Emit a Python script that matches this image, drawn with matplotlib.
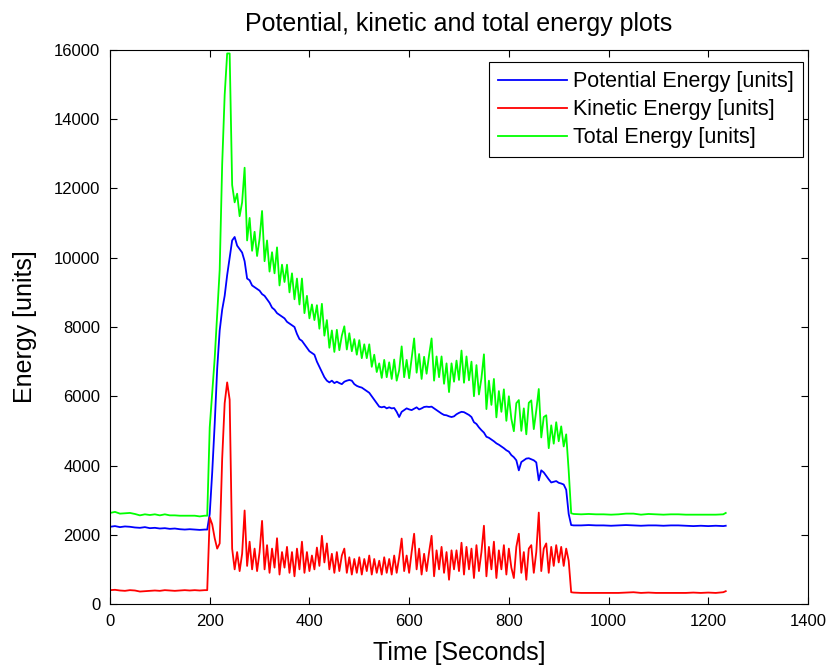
import numpy as np
import matplotlib
matplotlib.use("Agg")
import matplotlib.pyplot as plt
from matplotlib import font_manager

plt.rcParams['font.family'] = ['Liberation Sans', 'DejaVu Sans']
names = {f.name for f in font_manager.fontManager.ttflist}
if 'Liberation Sans Narrow' in names:
    tick_family, tick_size = 'Liberation Sans Narrow', 14
else:
    tick_family, tick_size = 'Liberation Sans', 12

# ---- data ----
time_pre = [0, 10, 20, 30, 40, 50, 60, 70, 80, 90, 100, 110, 120, 130, 140, 150, 160, 170, 180, 190]
pot_pre = [2230, 2250, 2220, 2240, 2230, 2210, 2200, 2220, 2190, 2200,
           2180, 2190, 2170, 2180, 2160, 2150, 2160, 2150, 2140, 2150]
kin_pre = [400, 410, 390, 380, 400, 390, 360, 370, 380, 390,
           380, 400, 390, 380, 390, 400, 390, 400, 390, 400]

time_mid = list(range(195, 926, 5))
pot_mid = [2150, 2600, 3800, 5200, 6800, 7900, 8500, 8900, 9500, 10000,
           10500, 10600, 10350, 10250, 10150, 9900, 9400, 9350, 9200, 9150,
           9100, 9050, 8950, 8900, 8800, 8700, 8560, 8500, 8400, 8350,
           8300, 8250, 8150, 8100, 8050, 8000, 7800, 7650, 7600, 7500,
           7400, 7300, 7250, 7200, 7000, 6850, 6700, 6550, 6450, 6400,
           6450, 6380, 6420, 6380, 6350, 6420, 6450, 6470, 6450, 6350,
           6300, 6270, 6250, 6200, 6150, 6100, 6000, 5900, 5800, 5700,
           5680, 5700, 5650, 5680, 5650, 5660, 5550, 5400, 5550, 5600,
           5650, 5620, 5600, 5640, 5680, 5620, 5650, 5690, 5700, 5690,
           5700, 5650, 5600, 5550, 5500, 5460, 5450, 5420, 5400, 5420,
           5480, 5520, 5550, 5540, 5500, 5460, 5400, 5250, 5200, 5100,
           5020, 4950, 4830, 4800, 4750, 4700, 4640, 4600, 4550, 4500,
           4440, 4400, 4300, 4240, 4150, 3860, 4100, 4150, 4200, 4210,
           4180, 4150, 4090, 3570, 3860, 3800, 3700, 3600, 3510, 3530,
           3550, 3500, 3480, 3450, 3300, 2600, 2280]
kin_mid = [400, 2500, 2300, 1900, 1600, 1750, 4200, 5800, 6400, 5900,
           1600, 1000, 1500, 950, 1450, 2700, 1100, 1800, 1000, 1600,
           950, 1500, 2400, 1000, 1700, 900, 1600, 1050, 1900, 850,
           1500, 1050, 1650, 900, 1500, 800, 1600, 1000, 1800, 900,
           1500, 950, 1400, 1000, 1630, 1100, 1970, 1200, 1750, 1000,
           1450, 900, 1500, 950, 1400, 1600, 900, 1350, 850, 1300,
           900, 1350, 850, 1300, 950, 1400, 850, 1300, 900, 1250,
           850, 1350, 900, 1300, 850, 1400, 900, 1350, 1890, 950,
           1400, 900, 1500, 2030, 1000, 1600, 850, 1450, 950, 1500,
           1970, 800, 1550, 1000, 1650, 900, 1500, 700, 1550, 1000,
           1550, 950, 1770, 850, 1650, 1000, 1600, 750, 1700, 950,
           1500, 2260, 800, 1650, 1000, 1800, 750, 1550, 1000, 1700,
           850, 1600, 1050, 750, 1650, 2030, 900, 1500, 700, 1600,
           1700, 900, 1500, 2640, 950, 1600, 1750, 900, 1650, 1100,
           1700, 1200, 1650, 1100, 1600, 1250, 340]

time_post = [930, 945, 960, 975, 990, 1005, 1020, 1035, 1050, 1065, 1080,
             1095, 1110, 1125, 1140, 1155, 1170, 1185, 1200, 1215, 1230, 1235]
pot_post = [2270, 2270, 2280, 2270, 2270, 2260, 2270, 2280, 2270, 2260, 2270,
            2270, 2260, 2270, 2270, 2260, 2250, 2260, 2250, 2260, 2250, 2260]
kin_post = [330, 320, 320, 320, 320, 320, 320, 330, 340, 320, 330,
            320, 320, 320, 320, 320, 330, 320, 330, 320, 340, 370]

time_s = np.array(time_pre + time_mid + time_post)
potential = np.array(pot_pre + pot_mid + pot_post)
kinetic = np.array(kin_pre + kin_mid + kin_post)
total = potential + kinetic

# ---- plot ----
fig = plt.figure(figsize=(8.38, 6.69), dpi=100)
ax = fig.add_axes([110/838, 1-604/669, 698/838, 554/669])

ax.plot(time_s, potential, color=(0, 0, 1), lw=1.3, label='Potential Energy [units]')
ax.plot(time_s, kinetic, color=(1, 0, 0), lw=1.3, label='Kinetic Energy [units]')
ax.plot(time_s, total, color=(0, 1, 0), lw=1.3, label='Total Energy [units]')

ax.set_xlim(0, 1400)
ax.set_ylim(0, 16000)
ax.set_xticks(range(0, 1401, 200))
ax.set_yticks(range(0, 16001, 2000))
ax.tick_params(direction='in', top=True, right=True, length=5, width=0.8, pad=7)
for lab in ax.get_xticklabels() + ax.get_yticklabels():
    lab.set_fontfamily(tick_family)
    lab.set_fontsize(tick_size)
for s in ax.spines.values():
    s.set_linewidth(0.8)

ax.set_xlabel('Time [Seconds]', fontsize=18)
ax.set_ylabel('Energy [units]', fontsize=18)
ax.xaxis.set_label_coords(0.5, (604 - 641) / 554)
ax.yaxis.set_label_coords((37 - 110) / 698, 0.5)
ax.set_title('Potential, kinetic and total energy plots', fontsize=18, pad=14)

leg = ax.legend(loc='upper right', bbox_to_anchor=(803/838, 1-62/669),
                bbox_transform=fig.transFigure, borderaxespad=0,
                fontsize=15.5, handlelength=3.2, fancybox=False,
                edgecolor='black', framealpha=1,
                labelspacing=0.33, handletextpad=0.3, borderpad=0.42)
leg.get_frame().set_linewidth(0.8)

fig.savefig('out.png', dpi=100)
